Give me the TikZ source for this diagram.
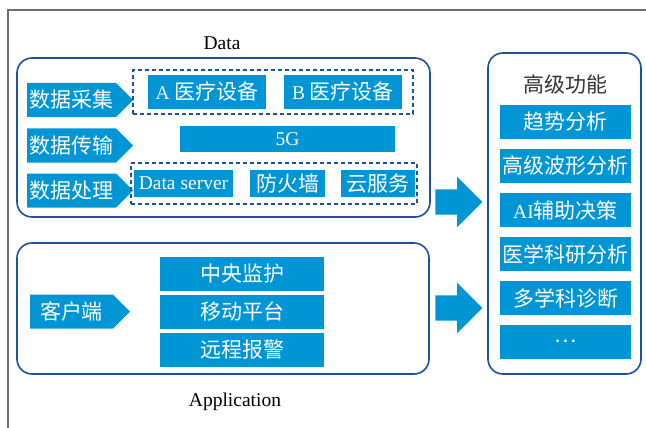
\documentclass[tikz,border=0pt]{standalone}
\usepackage{fontspec}
\setmainfont{Liberation Serif}
\newfontfamily\cjk{Noto Sans CJK SC}
\usetikzlibrary{shapes.symbols,shapes.arrows,fit}
\definecolor{fillblue}{RGB}{0,150,214}
\definecolor{edgeblue}{RGB}{30,82,160}
\definecolor{framegray}{RGB}{110,110,110}
\newcommand{\zh}{\cjk\fontsize{21}{25}\selectfont}
\newcommand{\en}{\rmfamily\fontsize{19.5}{23}\selectfont}

\begin{document}
\begin{tikzpicture}[x=1pt,y=-1pt,
        groupbox/.style={rectangle, rounded corners=15pt, draw=edgeblue, line width=1.6pt, inner sep=0pt},
        tag/.style={signal, signal to=east, signal pointer angle=90, fill=fillblue, text=white, font=\zh, minimum width=100pt, minimum height=34pt, inner xsep=2.5pt, inner ysep=0pt},
        box/.style={rectangle, fill=fillblue, text=white, font=\zh, minimum height=34pt, inner sep=0pt},
        dashbox/.style={rectangle, draw=edgeblue, dash pattern=on 4pt off 3pt, line width=1.2pt, inner sep=0pt},
        bigarrow/.style={single arrow, fill=fillblue, minimum height=47pt, single arrow head extend=12.5pt, inner xsep=0pt, inner ysep=12.5pt},
        title/.style={font=\en, text=black},]
        \useasboundingbox (0,0) rectangle (646,428);

        % Frame
        \draw[framegray, line width=1.5pt] (8,428) -- (8,10) -- (646,10);

        % Groups
        \node[title] (datatitle) at (222,43) {Data};
        \node[groupbox, minimum width=413pt, minimum height=159pt] (datagrp) at (223.5,137.5) {};
        \node[groupbox, minimum width=412pt, minimum height=131pt] (appgrp) at (223,308.5) {};
        \node[title] (apptitle) at (235,402) {Application};
        \node[groupbox, minimum width=153pt, minimum height=321pt] (funcgrp) at (564.5,213.5) {};
        \node[font=\zh, text=black!80] (functitle) at (565,85) {高级功能};

        % Tags
        \node[tag] (collect) at (71.5,100)   {数据采集};
        \node[tag] (trans)   at (71.5,145.5) {数据传输};
        \node[tag] (proc)    at (71.5,190.5) {数据处理};
        \node[tag] (client)  at (71.5,311.5) {客户端};

        % Data layer
        \node[box, minimum width=118pt] (deva) at (207,92) {{\en A }医疗设备};
        \node[box, minimum width=118pt] (devb) at (343,92) {{\en B }医疗设备};
        \node[box, minimum width=215pt, minimum height=26pt, font=\en] (net) at (287.5,139) {5G};
        \node[box, minimum width=99pt, minimum height=27pt, font=\en] (server) at (183.5,183.5) {Data server};
        \node[box, minimum width=75pt, minimum height=27pt] (wall)  at (287.5,183.5) {防火墙};
        \node[box, minimum width=74pt, minimum height=27pt] (cloud) at (378,183.5) {云服务};
        \node[dashbox, fit={(133,70) (413,114)}] (devgrp) {};
        \node[dashbox, fit={(131,163) (417,204)}] (procgrp) {};

        % Application layer
        \node[box, minimum width=164pt] (monitor) at (242,274)   {中央监护};
        \node[box, minimum width=164pt] (mobile)  at (242,311.5) {移动平台};
        \node[box, minimum width=164pt] (alarm)   at (242,349.5) {远程报警};

        % Functions
        \node[box, minimum width=131pt] (trend) at (565.5,122) {趋势分析};
        \node[box, minimum width=131pt] (wave)  at (565.5,166) {高级波形分析};
        \node[box, minimum width=131pt] (ai)    at (565.5,210) {{\en AI}辅助决策};
        \node[box, minimum width=131pt] (study) at (565.5,254) {医学科研分析};
        \node[box, minimum width=131pt] (multi) at (565.5,298) {多学科诊断};
        \node[box, minimum width=131pt] (more)  at (565.5,341.5) {…};

        % Arrows
        \node[bigarrow] (go1) at (452.5,202) {};
        \node[bigarrow] (go2) at (452.5,308) {};
    \end{tikzpicture}
\end{document}
